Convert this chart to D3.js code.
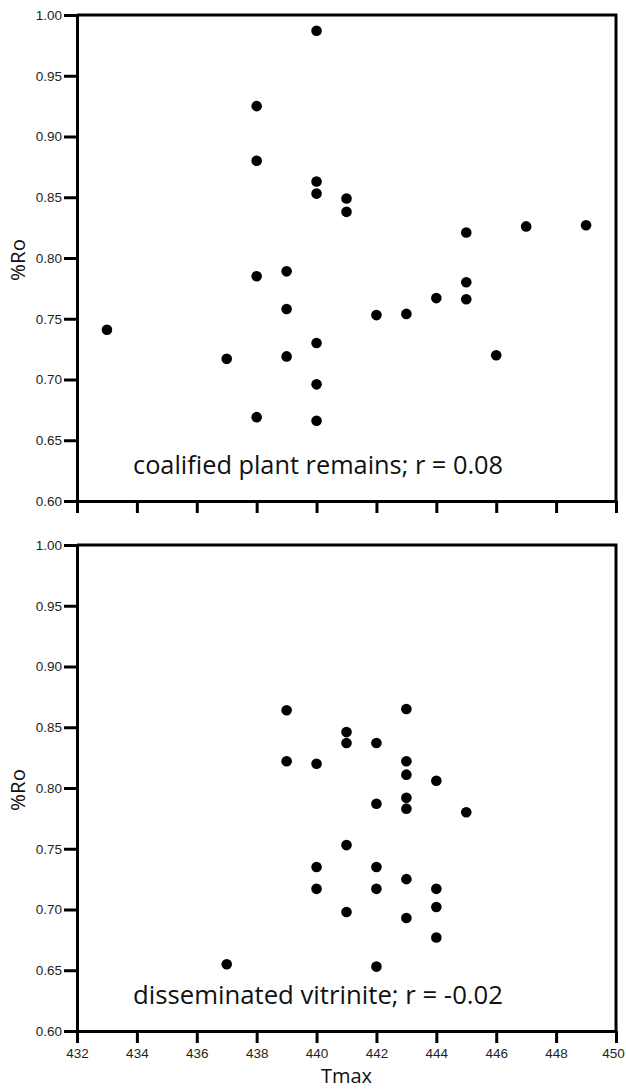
<!DOCTYPE html>
<html>
<head>
<meta charset="utf-8">
<script src="https://cdn.jsdelivr.net/npm/d3@7"></script>
<style>
  body { margin: 0; background: #fff; }
  svg { display: block; font-family: "Open Sans", sans-serif; }
  .axis path, .axis line { stroke: #000; stroke-width: 3; }
  .axis text { font-size: 13.5px; fill: #231f20; }
</style>
</head>
<body>
<div id="chart"></div>
<script>
// values
const tmaxTicks = [432, 434, 436, 438, 440, 442, 444, 446, 448, 450];
const roTicks = [0.60, 0.65, 0.70, 0.75, 0.80, 0.85, 0.90, 0.95, 1.00];

// coalified plant remains
const plantTmax = [440, 438, 438, 440, 440, 441, 441, 445, 447, 449,
                   438, 439, 445, 444, 445, 433, 439, 442, 443, 440,
                   437, 439, 446, 440, 438, 440];
const plantRo   = [0.987, 0.925, 0.880, 0.863, 0.853, 0.849, 0.838, 0.821, 0.826, 0.827,
                   0.785, 0.789, 0.780, 0.767, 0.766, 0.741, 0.758, 0.753, 0.754, 0.730,
                   0.717, 0.719, 0.720, 0.696, 0.669, 0.666];

// disseminated vitrinite
const vitTmax = [439, 439, 440, 440, 440, 441, 441, 441, 441,
                 442, 442, 442, 442, 442, 443, 443, 443, 443, 443,
                 443, 443, 444, 444, 444, 444, 445, 437];
const vitRo   = [0.864, 0.822, 0.820, 0.735, 0.717, 0.846, 0.837, 0.753, 0.698,
                 0.837, 0.787, 0.735, 0.717, 0.653, 0.865, 0.822, 0.811, 0.792, 0.783,
                 0.725, 0.693, 0.806, 0.717, 0.702, 0.677, 0.780, 0.655];

const panels = [
  { label: "coalified plant remains; r = 0.08", xs: plantTmax, ys: plantRo, top: 15, xLabels: false },
  { label: "disseminated vitrinite; r = -0.02", xs: vitTmax, ys: vitRo, top: 545, xLabels: true }
];

const W = 626, H = 1090;
const left = 77, right = 616, panelH = 486;

const svg = d3.select("#chart").append("svg")
  .attr("width", W)
  .attr("height", H);

const x = d3.scaleLinear().domain([432, 450]).range([left, right]);

panels.forEach(p => {
  const y = d3.scaleLinear().domain([0.6, 1.0]).range([p.top + panelH, p.top]);

  // frame (top and right sides)
  svg.append("path")
    .attr("d", `M${left},${p.top}H${right}V${p.top + panelH}`)
    .attr("fill", "none")
    .attr("stroke", "#000")
    .attr("stroke-width", 3);

  // y axis
  svg.append("g")
    .attr("class", "axis")
    .attr("transform", `translate(${left},0)`)
    .call(d3.axisLeft(y).tickValues(roTicks).tickFormat(d3.format(".2f"))
      .tickSizeInner(13).tickSizeOuter(0).tickPadding(2));

  // x axis
  const xa = svg.append("g")
    .attr("class", "axis")
    .attr("transform", `translate(0,${p.top + panelH})`)
    .call(d3.axisBottom(x).tickValues(tmaxTicks).tickFormat(d3.format("d"))
      .tickSizeInner(12).tickSizeOuter(0).tickPadding(5));
  if (!p.xLabels) xa.selectAll("text").remove();
  // last label sits on the page edge, pull it in a little
  xa.selectAll(".tick text").filter(d => d === 450).attr("dx", -3);

  // points
  svg.append("g")
    .selectAll("circle")
    .data(p.xs.map((v, i) => [v, p.ys[i]]))
    .join("circle")
    .attr("cx", d => x(d[0]))
    .attr("cy", d => y(d[1]))
    .attr("r", 5.3)
    .attr("fill", "#000");

  // annotation
  svg.append("text")
    .attr("x", 133)
    .attr("y", p.top + panelH - 27)
    .attr("font-size", 26)
    .attr("textLength", 370)
    .attr("lengthAdjust", "spacingAndGlyphs")
    .attr("fill", "#111")
    .text(p.label);

  // y label
  svg.append("text")
    .attr("transform", `translate(25,${p.top + panelH / 2 + 2}) rotate(-90)`)
    .attr("text-anchor", "middle")
    .attr("font-size", 20.5)
    .attr("fill", "#111")
    .text("%Ro");
});

svg.append("text")
  .attr("x", (left + right) / 2)
  .attr("y", 1083)
  .attr("text-anchor", "middle")
  .attr("font-size", 20)
  .attr("fill", "#111")
  .text("Tmax");
</script>
</body>
</html>
